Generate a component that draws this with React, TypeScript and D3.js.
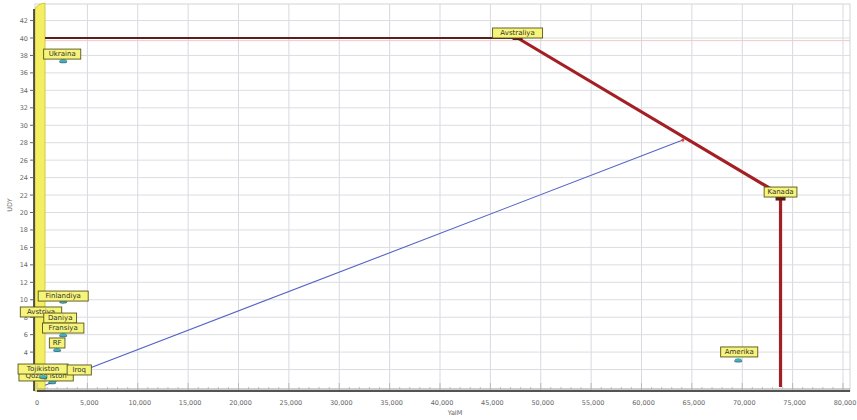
import React from "react";
import * as d3 from "d3";

const W = 857;
const H = 420;

// x tick values and labels
const xTicks = [0, 5000, 10000, 15000, 20000, 25000, 30000, 35000, 40000, 45000, 50000, 55000, 60000, 65000, 70000, 75000, 80000];
const yTicks = [2, 4, 6, 8, 10, 12, 14, 16, 18, 20, 22, 24, 26, 28, 30, 32, 34, 36, 38, 40, 42];

// red path (Avstraliya -> Kanada -> down)
const redX = [47700, 73000, 73800, 73800];
const redY = [40, 22.6, 21.6, 0];
// dark horizontal segment
const topX = [800, 47700];
const topY = [40, 40];
// blue line
const blueX = [800, 64100];
const blueY = [0.2, 28.3];

// labelled points
const pointNames = ["Ukraina", "Avstraliya", "Kanada", "Amerika", "Finlandiya", "Avstriya", "Daniya", "Fransiya", "RF", "Qozog'iston", "Tojikiston", "Iroq"];
const pointX = [2600, 47700, 73800, 69600, 2600, 200, 2300, 2600, 2000, 1500, 600, 3000];
const pointY = [37.4, 40, 21.6, 3.1, 9.85, 8.3, 7.1, 6.0, 4.3, 0.6, 1.2, 1.0];
const markerKind = ["dot", "rect", "rect", "dot", "dot", "none", "dot", "dot", "dot", "dot", "dot", "none"];
// label box anchor offsets (px) relative to the point
const labelDx = [-1, 0, 0, 1, 0, 2, 0, 0, 0, -6, 0, 12];
const labelDy = [-2.6, -1, -2.5, -4, -1, 1.4, -3, -2.6, -2.5, -1.8, -3.5, -4.3];

const fmt = d3.format(",");

export default function App() {
  const x = d3.scaleLinear().domain([0, 80000]).range([37, 843]);
  const y = d3.scaleLinear().domain([0, 40]).range([387, 38]);
  const plotTop = 4;
  const plotBottom = 391;
  const plotLeft = 35;
  const plotRight = 850;

  const line = d3
    .line<[number, number]>()
    .x((d) => x(d[0]))
    .y((d) => y(d[1]));

  const redPts: [number, number][] = redX.map((v, i) => [v, redY[i]]);
  const topPts: [number, number][] = topX.map((v, i) => [v, topY[i]]);
  const bluePts: [number, number][] = blueX.map((v, i) => [v, blueY[i]]);

  const minorX = d3.range(0, 80001, 1000);

  const approxWidth = (s: string) => s.length * 4.3 + 7;

  return (
    <svg width={W} height={H} style={{ position: "absolute", left: 0, top: 0, background: "#fff" }} fontFamily="DejaVu Sans, sans-serif">
      {/* frame */}
      <rect x={plotLeft} y={plotTop} width={plotRight - plotLeft} height={plotBottom - plotTop} fill="#fff" stroke="#d4d4d4" />
      {/* grid */}
      {xTicks.slice(1).map((t) => (
        <line key={"gx" + t} x1={x(t)} x2={x(t)} y1={plotTop} y2={plotBottom} stroke="#d6d9e0" strokeWidth={1} />
      ))}
      {yTicks.map((t) => (
        <line key={"gy" + t} x1={plotLeft} x2={plotRight} y1={y(t)} y2={y(t)} stroke="#dcdde2" strokeWidth={1} />
      ))}
      {/* faint pink line just below 40 */}
      <line x1={45} x2={plotRight} y1={y(39.7)} y2={y(39.7)} stroke="#f3c9c9" strokeWidth={1} />

      {/* yellow 3D wall along y axis */}
      <path d={`M${35},${plotBottom} L${35},${9} Q${37},${4} ${45},${3} L${45},${plotBottom} Z`} fill="#f4ee62" stroke="#c9bf2a" strokeWidth={0.8} />
      <line x1={34} x2={34} y1={9} y2={plotBottom} stroke="#222" strokeWidth={1.5} />

      {/* y ticks & labels */}
      {yTicks.map((t) => (
        <g key={"yt" + t}>
          <line x1={30} x2={34} y1={y(t)} y2={y(t)} stroke="#666" />
          <text x={28} y={y(t) + 2.5} fontSize={6.5} fill="#666" textAnchor="end">
            {t}
          </text>
        </g>
      ))}
      <text transform={`translate(12,205) rotate(-90)`} fontSize={6.5} fill="#666" textAnchor="middle">
        UDY
      </text>

      {/* bottom axis */}
      <line x1={37} x2={plotRight} y1={plotBottom - 2} y2={plotBottom - 2} stroke="#9a9a9a" strokeWidth={1} />
      <line x1={37} x2={plotRight} y1={plotBottom} y2={plotBottom} stroke="#222" strokeWidth={1.5} />
      {minorX.map((t) => (
        <line key={"mx" + t} x1={x(t)} x2={x(t)} y1={plotBottom - 2} y2={plotBottom - (t % 5000 === 0 ? 8 : 4)} stroke="#b0b0b0" strokeWidth={0.8} />
      ))}
      {xTicks.map((t) => (
        <text key={"xt" + t} x={x(t) + (t === 0 ? 0 : 2)} y={405} fontSize={6.5} fill="#666" textAnchor="middle">
          {fmt(t)}
        </text>
      ))}
      <text x={x(41500)} y={415} fontSize={6.5} fill="#666" textAnchor="middle">
        YaIM
      </text>

      {/* lines */}
      <path d={line(bluePts) || ""} fill="none" stroke="#5563c4" strokeWidth={1.1} />
      <circle cx={x(blueX[1])} cy={y(blueY[1])} r={1.6} fill="#e04040" />
      <path d={line(topPts) || ""} fill="none" stroke="#5a1f1f" strokeWidth={2} />
      <path d={line(redPts) || ""} fill="none" stroke="#a31f24" strokeWidth={3.2} />

      {/* points and labels */}
      {pointNames.map((n, i) => {
        const px = x(pointX[i]);
        const py = y(pointY[i]);
        const w = approxWidth(n);
        const bx = px + labelDx[i] - w / 2;
        const by = py + labelDy[i] - 9;
        return (
          <g key={n}>
            {markerKind[i] === "dot" && (
              <g>
                <ellipse cx={px} cy={py + 1} rx={4} ry={1.6} fill="#1f5a66" opacity={0.8} />
                <ellipse cx={px} cy={py} rx={3.5} ry={1.6} fill="#3fb0c0" />
              </g>
            )}
            {markerKind[i] === "rect" && <rect x={px - 5} y={py - 2} width={10} height={4} fill="#5a1a1a" />}
            <rect x={bx} y={by} width={w} height={10} fill="#f6f47a" stroke="#55551a" strokeWidth={0.9} />
            <text x={bx + w / 2} y={by + 7.3} fontSize={7} fill="#333" textAnchor="middle">
              {n}
            </text>
          </g>
        );
      })}
    </svg>
  );
}
